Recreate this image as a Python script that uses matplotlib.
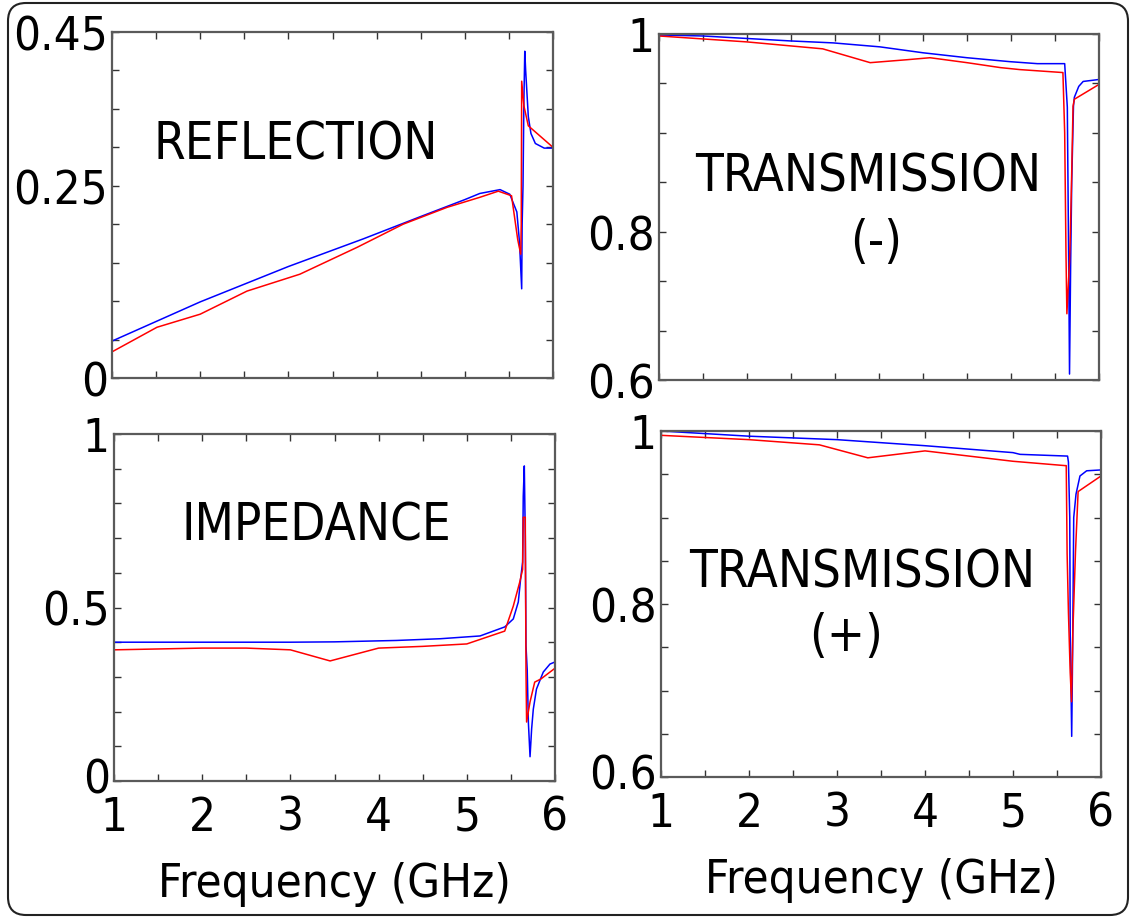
import matplotlib
matplotlib.use("Agg")
import matplotlib.pyplot as plt
import matplotlib.patches as mpatches
import matplotlib.transforms as mtransforms
from matplotlib import font_manager
import numpy as np

# ---- data -------------------------------------------------------------
refl_blue_f = [1.0, 2.0, 3.0, 3.85, 4.5, 5.0, 5.17, 5.4, 5.51, 5.59, 5.62, 5.645,
               5.65, 5.66, 5.67, 5.68, 5.69, 5.72, 5.75, 5.8, 5.9, 6.0]
refl_blue_v = [0.048, 0.099, 0.145, 0.181, 0.21, 0.232, 0.240, 0.245, 0.239, 0.216, 0.177, 0.116,
               0.20, 0.25, 0.36, 0.425, 0.40, 0.34, 0.318, 0.305, 0.299, 0.299]
refl_red_f = [1.0, 1.51, 2.0, 2.53, 3.13, 3.78, 4.3, 4.8, 5.17, 5.38, 5.53, 5.6, 5.634,
              5.64, 5.645, 5.67, 5.72, 6.0]
refl_red_v = [0.034, 0.066, 0.083, 0.113, 0.135, 0.170, 0.200, 0.222, 0.235, 0.243, 0.237, 0.18, 0.161,
              0.20, 0.386, 0.354, 0.328, 0.30]

tminus_blue_f = [1.0, 1.5, 2.49, 2.98, 3.51, 4.0, 4.5, 4.99, 5.3, 5.61, 5.64, 5.655,
                 5.665, 5.678, 5.69, 5.71, 5.72, 5.77, 5.82, 6.0]
tminus_blue_v = [0.999, 0.998, 0.993, 0.991, 0.987, 0.981, 0.976, 0.972, 0.970, 0.970, 0.926, 0.775,
                 0.656, 0.769, 0.85, 0.927, 0.936, 0.947, 0.952, 0.954]
tminus_red_f = [1.0, 1.5, 2.0, 2.49, 2.86, 3.4, 3.82, 4.08, 4.5, 4.88, 5.1, 5.59, 5.61,
                5.625, 5.635, 5.665, 5.675, 5.69, 5.705, 5.72, 6.0]
tminus_red_v = [0.998, 0.995, 0.992, 0.988, 0.985, 0.971, 0.974, 0.976, 0.971, 0.966, 0.964, 0.961, 0.90,
                0.777, 0.717, 0.77, 0.80, 0.86, 0.927, 0.934, 0.949]

imp_blue_f = [1.0, 2.0, 3.0, 3.5, 4.2, 4.7, 5.15, 5.43, 5.527, 5.584, 5.61, 5.633, 5.64,
              5.652, 5.663, 5.671, 5.685, 5.698, 5.717, 5.735, 5.754, 5.79, 5.867, 5.943, 6.0]
imp_blue_v = [0.40, 0.40, 0.40, 0.401, 0.405, 0.41, 0.418, 0.444, 0.467, 0.516, 0.582, 0.631, 0.82,
              0.908, 0.706, 0.39, 0.32, 0.17, 0.07, 0.15, 0.207, 0.265, 0.314, 0.337, 0.343]
imp_red_f = [1.0, 2.0, 2.5, 3.0, 3.45, 4.0, 4.5, 5.0, 5.43, 5.527, 5.6, 5.633, 5.64,
             5.663, 5.671, 5.678, 5.717, 5.77, 5.84, 6.0]
imp_red_v = [0.378, 0.383, 0.383, 0.378, 0.346, 0.383, 0.388, 0.395, 0.432, 0.504, 0.573, 0.61, 0.76,
             0.76, 0.32, 0.17, 0.228, 0.285, 0.294, 0.325]

tplus_blue_f = [1.0, 2.0, 3.0, 4.0, 5.0, 5.08, 5.62, 5.63, 5.645, 5.65, 5.667, 5.678,
                5.69, 5.716, 5.761, 5.837, 6.0]
tplus_blue_v = [1.0, 0.994, 0.99, 0.983, 0.975, 0.973, 0.971, 0.964, 0.90, 0.769, 0.647, 0.75,
                0.90, 0.927, 0.948, 0.954, 0.955]
tplus_red_f = [1.0, 2.0, 2.8, 3.35, 4.0, 5.0, 5.59, 5.605, 5.615, 5.63, 5.65, 5.665,
               5.68, 5.71, 5.74, 6.0]
tplus_red_v = [0.995, 0.99, 0.984, 0.969, 0.977, 0.965, 0.96, 0.96, 0.858, 0.79, 0.721, 0.687,
               0.768, 0.86, 0.93, 0.948]

x_ticks = np.arange(1.0, 6.01, 0.5)
x_labels = ["1", "", "2", "", "3", "", "4", "", "5", "", "6"]

# ---- font ---------------------------------------------------------------
family = "DejaVu Sans"
stretch = "normal"
try:
    path = font_manager.findfont(
        font_manager.FontProperties(family="DejaVu Sans", stretch="condensed"),
        fallback_to_default=False)
    if "Condensed" in path:
        stretch = "condensed"
except Exception:
    pass
plt.rcParams["font.family"] = [family]
plt.rcParams["font.stretch"] = stretch
FS = 34
FS_TITLE = 36.5

W, H = 1136, 920
fig = plt.figure(figsize=(W / 100, H / 100), dpi=100)


def px_axes(x0, y0, x1, y1):
    return fig.add_axes([x0 / W, 1 - y1 / H, (x1 - x0) / W, (y1 - y0) / H])


def style(ax, ylim, yticks, ylabels, show_x):
    ax.set_xlim(1, 6)
    ax.set_ylim(*ylim)
    ax.set_xticks(x_ticks)
    ax.set_xticklabels(x_labels if show_x else [""] * len(x_ticks))
    ax.set_yticks(yticks)
    ax.set_yticklabels(ylabels)
    ax.tick_params(direction="in", length=5, width=1.0, color="#333333",
                   top=True, right=True, labelsize=FS, pad=10)
    ax.tick_params(axis="y", pad=3)
    for s in ax.spines.values():
        s.set_color("#5a5a5a")
        s.set_linewidth(1.6)
    if show_x:
        ax.set_xlabel("Frequency (GHz)", fontsize=FS, labelpad=15)
        # lift the lowest y label a little so it clears the x labels
        lift = mtransforms.ScaledTranslation(0, 6 / 100, fig.dpi_scale_trans)
        low = ax.get_yticklabels()[0]
        low.set_transform(low.get_transform() + lift)


def curves(ax, bf, bv, rf, rv):
    ax.plot(bf, bv, color="#0000ff", lw=1.1)
    ax.plot(rf, rv, color="#ff0000", lw=1.1)


ax1 = px_axes(112, 33, 553, 379)
curves(ax1, refl_blue_f, refl_blue_v, refl_red_f, refl_red_v)
ticks1 = np.round(np.arange(0, 0.451, 0.05), 2)
style(ax1, (0, 0.45), ticks1,
      ["0", "", "", "", "", "0.25", "", "", "", "0.45"], False)

ax2 = px_axes(659, 35, 1099, 381)
curves(ax2, tminus_blue_f, tminus_blue_v, tminus_red_f, tminus_red_v)
ticks2 = np.round(np.arange(0.65, 1.001, 0.05), 2)
style(ax2, (0.65, 1.0), ticks2,
      ["0.6", "", "", "0.8", "", "", "", "1"], False)

ax3 = px_axes(114, 435, 555, 782)
curves(ax3, imp_blue_f, imp_blue_v, imp_red_f, imp_red_v)
ticks3 = np.round(np.arange(0, 1.001, 0.1), 1)
style(ax3, (0, 1.0), ticks3,
      ["0", "", "", "", "", "0.5", "", "", "", "", "1"], True)

ax4 = px_axes(661, 432, 1101, 778)
curves(ax4, tplus_blue_f, tplus_blue_v, tplus_red_f, tplus_red_v)
ticks4 = np.round(np.arange(0.6, 1.001, 0.05), 2)
style(ax4, (0.6, 1.0), ticks4,
      ["0.6", "", "", "", "0.8", "", "", "", "1"], True)


def label(x, y, s):
    fig.text(x / W, 1 - y / H, s, fontsize=FS_TITLE, ha="center", va="center")


label(296, 145, "REFLECTION")
label(868, 178, "TRANSMISSION")
label(876, 243, "(-)")
label(316, 527, "IMPEDANCE")
label(862, 573, "TRANSMISSION")
label(846, 637, "(+)")

# rounded frame around the whole figure
frame = mpatches.FancyBboxPatch((8, 4), 1120, 912,
                                boxstyle="round,pad=0,rounding_size=18",
                                transform=None, fill=False,
                                edgecolor="#222222", linewidth=1.5)
fig.patches.append(frame)

fig.savefig("out.png", dpi=100)
